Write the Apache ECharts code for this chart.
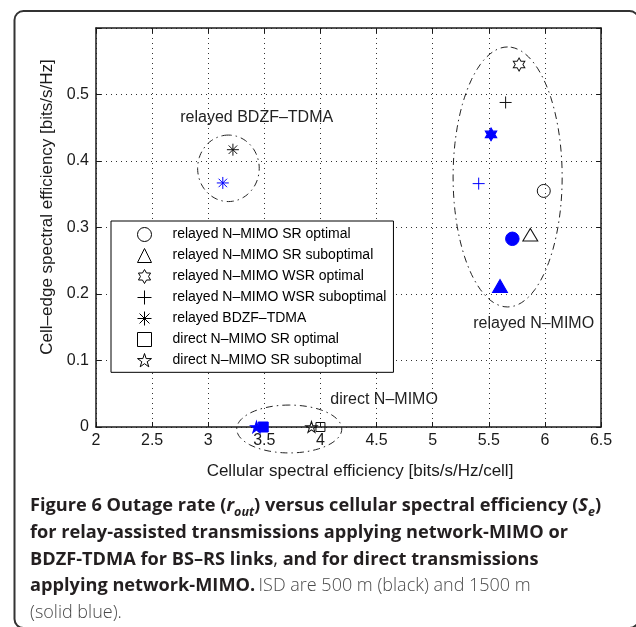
<!DOCTYPE html>
<html>
<head>
<meta charset="utf-8">
<script src="https://cdn.jsdelivr.net/npm/echarts@6/dist/echarts.min.js"></script>
<style>
html,body{margin:0;padding:0;background:#fff;}
#c{width:636px;height:627px;}
</style>
</head>
<body>
<div id="c"></div>
<script>
// ---- data ----
const legendNames = [
  'relayed N\u2013MIMO SR optimal',
  'relayed N\u2013MIMO SR suboptimal',
  'relayed N\u2013MIMO WSR optimal',
  'relayed N\u2013MIMO WSR suboptimal',
  'relayed BDZF\u2013TDMA',
  'direct N\u2013MIMO SR optimal',
  'direct N\u2013MIMO SR suboptimal'
];
// ISD 500 m (black, open markers)
const isd500X = [5.99, 5.87, 5.77, 5.65, 3.22, 4.00, 3.92];
const isd500Y = [0.355, 0.289, 0.545, 0.488, 0.417, 0, 0];
// ISD 1500 m (solid blue)
const isd1500X = [5.71, 5.60, 5.52, 5.41, 3.13, 3.49, 3.43];
const isd1500Y = [0.283, 0.212, 0.440, 0.366, 0.367, 0, 0];
// group ellipses (data units)
const groupCx = [3.18, 5.668, 3.722];
const groupCy = [0.389, 0.376, -0.003];
const groupRx = [0.2745, 0.486, 0.468];
const groupRy = [0.050, 0.1955, 0.036];
// group labels
const groupLabels = ['relayed BDZF\u2013TDMA', 'relayed N\u2013MIMO', 'direct N\u2013MIMO'];
const groupLabelX = [3.432, 5.90, 4.567];
const groupLabelY = [0.466, 0.156, 0.0406];
// tick labels
const xTickLabels = ['2','2.5','3','3.5','4','4.5','5','5.5','6','6.5'];
const yTickLabels = ['0','0.1','0.2','0.3','0.4','0.5'];

// ---- styles ----
const HEX = 'path://M100,0L128.87,50L186.6,50L157.7,100L186.6,150L128.87,150L100,200L71.13,150L13.4,150L42.3,100L13.4,50L71.13,50Z';
const PENT = 'path://M100,0L122.45,69.1L195.1,69.1L136.33,111.8L158.78,180.9L100,138.2L41.22,180.9L63.67,111.8L4.9,69.1L77.55,69.1Z';
const PLUS = 'path://M0,50L100,50M50,0L50,100';
const AST = 'path://M50,0L50,100M0,50L100,50M14.6,14.6L85.4,85.4M85.4,14.6L14.6,85.4';
const shapes = ['circle', 'triangle', HEX, PLUS, AST, 'rect', PENT];
const blackSizes = [13, [15,12.5], [11.5,13], 12, 12, 9, [11.5,11]];
const blueSizes = [13.5, [15,13], [11.5,13], 12, 12, 10, [12,11.5]];
const blueFilled = [true, true, true, false, false, true, true];
const BLUE = '#0000ff';
const INK = '#111';
const FONT = 'Liberation Sans';
const CAP = 'Open Sans';

const xMin = 2, xMax = 6.5, xStep = 0.5;
const yMin = 0, yMax = 0.6, yStep = 0.1;

const series = [];
// ellipses
series.push({
  type: 'custom', coordinateSystem: 'cartesian2d', clip: false, silent: true, z: 1,
  encode: {x: 0, y: 1},
  data: groupCx.map((cx, i) => [cx, groupCy[i], groupRx[i], groupRy[i]]),
  renderItem: function (params, api) {
    const cx = api.value(0), cy = api.value(1), rx = api.value(2), ry = api.value(3);
    const pts = [];
    const n = 96;
    for (let k = 0; k < n; k++) {
      const t = Math.PI / 2 + 2 * Math.PI * k / n;
      pts.push(api.coord([cx + rx * Math.cos(t), cy + ry * Math.sin(t)]));
    }
    return {
      type: 'polygon', shape: {points: pts},
      style: {fill: 'none', stroke: '#222', lineWidth: 1, lineDash: [7, 4, 1.5, 4]}
    };
  }
});
// labels
series.push({
  type: 'custom', coordinateSystem: 'cartesian2d', clip: false, silent: true, z: 3,
  encode: {x: 0, y: 1},
  data: groupLabels.map((t, i) => [groupLabelX[i], groupLabelY[i], i]),
  renderItem: function (params, api) {
    const c = api.coord([api.value(0), api.value(1)]);
    return {
      type: 'text', x: c[0], y: c[1],
      style: {text: groupLabels[api.value(2)], fontFamily: FONT, fontSize: 16, fill: '#222', align: 'center', verticalAlign: 'middle'}
    };
  }
});
// blue series
legendNames.forEach((name, i) => {
  series.push({
    type: 'scatter', name: name + ' (ISD 1500 m)', z: 4, clip: false,
    symbol: shapes[i], symbolSize: blueSizes[i], symbolKeepAspect: false,
    itemStyle: blueFilled[i]
      ? {color: BLUE, borderColor: BLUE, borderWidth: 1, opacity: 1}
      : {color: 'transparent', borderColor: BLUE, borderWidth: 1, opacity: 1},
    emphasis: {disabled: true},
    data: [[isd1500X[i], isd1500Y[i]]]
  });
});
// black series
legendNames.forEach((name, i) => {
  series.push({
    type: 'scatter', name: name, z: 5, clip: false,
    symbol: shapes[i], symbolSize: blackSizes[i], symbolKeepAspect: false,
    itemStyle: {color: 'transparent', borderColor: INK, borderWidth: 1, opacity: 1},
    emphasis: {disabled: true},
    data: [[isd500X[i], isd500Y[i]]]
  });
});

const axisLine = {show: true, onZero: false, lineStyle: {color: '#1a1a1a', width: 1.5}};
const tick = {show: true, inside: true, length: 5, lineStyle: {color: '#1a1a1a', width: 1}};
const grid = {left: 96, top: 28, right: 35, bottom: 200, containLabel: false};

const option = {
  animation: false,
  backgroundColor: '#fff',
  grid: grid,
  xAxis: [{
    type: 'value', min: xMin, max: xMax, interval: xStep, position: 'bottom',
    name: 'Cellular spectral efficiency [bits/s/Hz/cell]', nameLocation: 'middle', nameGap: 36,
    nameTextStyle: {fontFamily: FONT, fontSize: 17, color: '#1a1a1a', padding: [0, 0, 0, 23]},
    axisLine: axisLine, axisTick: tick,
    axisLabel: {margin: 6, fontFamily: FONT, fontSize: 16, color: '#1a1a1a', showMinLabel: true, showMaxLabel: true,
      formatter: v => xTickLabels[Math.round((v - xMin) / xStep)] || ''},
    splitLine: {show: true, lineStyle: {color: '#333', width: 1, type: [1, 4]}}
  }, {
    type: 'value', min: xMin, max: xMax, interval: xStep, position: 'top',
    axisLine: axisLine, axisTick: tick, axisLabel: {show: false}, splitLine: {show: false}
  }],
  yAxis: [{
    type: 'value', min: yMin, max: yMax, interval: yStep, position: 'left',
    name: 'Cell\u2013edge spectral efficiency [bits/s/Hz]', nameLocation: 'middle', nameGap: 32, nameRotate: 90,
    nameTextStyle: {fontFamily: FONT, fontSize: 17, color: '#1a1a1a', padding: [0, 0, 0, 41]},
    axisLine: axisLine, axisTick: tick,
    axisLabel: {margin: 7, fontFamily: FONT, fontSize: 16, color: '#1a1a1a', showMaxLabel: true,
      formatter: v => yTickLabels[Math.round((v - yMin) / yStep)] || ''},
    splitLine: {show: true, lineStyle: {color: '#333', width: 1, type: [1, 4]}}
  }, {
    type: 'value', min: yMin, max: yMax, interval: yStep, position: 'right',
    axisLine: axisLine, axisTick: tick, axisLabel: {show: false}, splitLine: {show: false}
  }],
  legend: {
    orient: 'vertical', left: 111, top: 221, padding: [6, 7, 5, 26],
    itemGap: 6.0, itemWidth: 14, itemHeight: 14,
    backgroundColor: '#fff', borderColor: '#000', borderWidth: 1,
    selectedMode: false,
    textStyle: {fontFamily: FONT, fontSize: 14, color: '#000', lineHeight: 14, height: 14, padding: [0, 0, 0, 16]},
    data: legendNames.map(n => ({name: n, itemStyle: {color: 'transparent', borderColor: '#000', borderWidth: 1}}))
  },
  graphic: [
    {
      type: 'rect', z: 100, silent: true,
      shape: {x: 14.5, y: 11, width: 624, height: 617, r: 9},
      style: {fill: 'none', stroke: '#333', lineWidth: 2}
    },
    {
      type: 'text', left: 30, top: 497, z: 100, silent: true,
      style: {
        text: '{b|Figure 6 Outage rate (}{bi|r}{bsub|out}{b|) versus cellular spectral efficiency (}{bi|S}{bsub|e}{b|)}\n' +
              '{b|for relay-assisted transmissions applying network-MIMO or}\n' +
              '{b|BDZF-TDMA for BS\u2013RS links}{n|, }{b|and for direct transmissions}\n' +
              '{b|applying network-MIMO.} {l|ISD are 500 m (black) and 1500 m}\n' +
              '{l|(solid blue).}',
        rich: {
          b: {fontFamily: CAP, fontWeight: 'bold', fontSize: 18.2, fill: '#231f20', lineHeight: 26.7},
          bi: {fontFamily: CAP, fontWeight: 'bold', fontStyle: 'italic', fontSize: 18.2, fill: '#231f20', lineHeight: 26.7},
          bsub: {fontFamily: CAP, fontWeight: 'bold', fontStyle: 'italic', fontSize: 12.5, fill: '#231f20', lineHeight: 17, verticalAlign: 'bottom'},
          n: {fontFamily: CAP, fontWeight: 'normal', fontSize: 18.2, fill: '#231f20', lineHeight: 26.7},
          l: {fontFamily: CAP, fontWeight: 300, fontSize: 18, fill: '#4a4a4a', lineHeight: 26.7}
        }
      }
    }
  ],
  series: series
};

const chart = echarts.init(document.getElementById('c'), null, {renderer: 'canvas'});
chart.setOption(option);
</script>
</body>
</html>
